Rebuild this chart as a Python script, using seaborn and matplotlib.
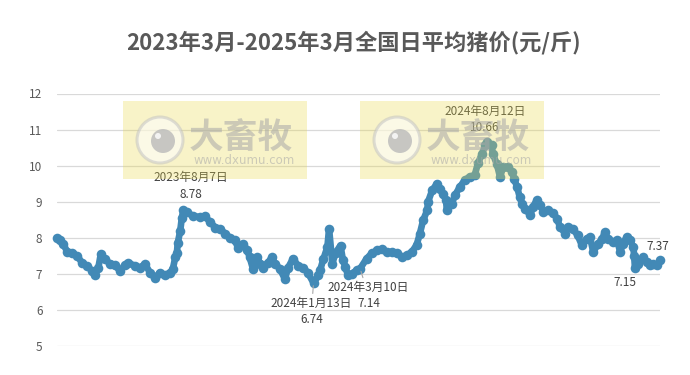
import pandas as pd
import matplotlib.pyplot as plt
import matplotlib.patches as mpatches
import seaborn as sns

# days counted from 2023-03-01, price in 元/斤
start = pd.Timestamp("2023-03-01")
days = [4, 8, 12, 17, 23, 29, 35, 41, 47, 51, 55, 58, 63, 69, 75, 81, 88, 91,
        100, 106, 112, 118, 124, 130, 136, 143, 146, 149, 151, 152, 155, 157,
        159, 163, 171, 179, 185, 192, 198, 204, 210, 216, 222, 226, 232, 237,
        240, 244, 249, 253, 256, 262, 267, 271, 277, 283, 287, 293, 299, 305,
        311, 318, 324, 326, 330, 335, 337, 341, 345, 351, 354, 357, 360, 365,
        371, 375, 383, 389, 396, 402, 408, 414, 420, 426, 432, 438, 444, 448,
        452, 457, 458, 463, 469, 473, 476, 480, 481, 487, 491, 497, 503, 509,
        515, 519, 524, 528, 530, 536, 537, 542, 546, 550, 556, 561, 563, 567,
        570, 573, 577, 583, 586, 591, 595, 599, 605, 611, 616, 619, 626, 629,
        635, 641, 646, 652, 656, 660, 666, 671, 674, 678, 684, 689, 693, 696,
        701, 705, 709, 710, 711, 715, 721, 726, 729, 733, 738, 742]
price = [7.98, 7.92, 7.83, 7.60, 7.58, 7.50, 7.30, 7.22, 7.08, 6.97, 7.17, 7.55,
         7.40, 7.28, 7.25, 7.08, 7.25, 7.30, 7.22, 7.17, 7.27, 7.03, 6.88, 7.03,
         6.95, 7.03, 7.13, 7.45, 7.58, 7.85, 8.18, 8.55, 8.78, 8.70, 8.60, 8.57,
         8.60, 8.42, 8.28, 8.25, 8.10, 8.00, 7.92, 7.70, 7.83, 7.65, 7.45, 7.13,
         7.45, 7.28, 7.17, 7.30, 7.45, 7.28, 7.13, 6.85, 7.17, 7.42, 7.22, 7.17,
         7.03, 6.74, 6.95, 7.09, 7.40, 7.74, 8.25, 7.28, 7.58, 7.78, 7.37, 7.19,
         6.95, 7.00, 7.10, 7.14, 7.42, 7.56, 7.65, 7.68, 7.60, 7.60, 7.56, 7.46,
         7.51, 7.60, 7.79, 8.11, 8.48, 8.76, 8.99, 9.31, 9.50, 9.36, 9.22, 9.04,
         8.76, 8.94, 9.18, 9.41, 9.60, 9.69, 9.73, 10.06, 10.33, 10.56, 10.66,
         10.56, 10.33, 10.05, 9.69, 9.96, 9.96, 9.82, 9.64, 9.40, 9.13, 8.94,
         8.80, 8.62, 8.85, 9.04, 8.90, 8.71, 8.76, 8.67, 8.53, 8.30, 8.11, 8.30,
         8.25, 8.06, 7.79, 7.97, 8.02, 7.60, 7.83, 7.97, 8.15, 7.97, 7.88, 7.93,
         7.60, 7.83, 8.02, 7.93, 7.74, 7.50, 7.15, 7.28, 7.46, 7.32, 7.23, 7.28,
         7.23, 7.37]

# labelled points: (day, value, label text, offset in points)
labels = [
    (159, 8.78, "2023年8月7日\n8.78", (5, 17)),
    (318, 6.74, "2024年1月13日\n6.74", (-1.5, -20.5)),
    (375, 7.14, "2024年3月10日\n7.14", (6, -19.5)),
    (530, 10.66, "2024年8月12日\n10.66", (-1.5, 16)),
    (711, 7.15, "7.15", (-7, -10)),
    (742, 7.37, "7.37", (-1.5, 10)),
]
leader = {318, 375}

df = pd.DataFrame({"date": start + pd.to_timedelta(days, unit="D"), "price": price})

sns.set_style("white")
plt.rcParams['font.family'] = ['Noto Sans CJK SC', 'DejaVu Sans']

fig = plt.figure(figsize=(6.9, 3.75), dpi=100)
ax = fig.add_axes([57 / 690, 1 - 345.7 / 375, 603 / 690, 252.2 / 375])

blue = "#4289b6"
sns.lineplot(data=df, x="date", y="price", ax=ax, color=blue, lw=4.8,
             solid_capstyle="round", solid_joinstyle="round", clip_on=False, zorder=3)
sns.scatterplot(data=df, x="date", y="price", ax=ax, color=blue, s=48,
                linewidth=0, clip_on=False, zorder=4)

ax.set_ylim(5, 12)
ax.set_xlim(start + pd.Timedelta(days=4.4), start + pd.Timedelta(days=741.6))
ax.set_yticks(range(5, 13))
ax.yaxis.grid(True, color="#d9d9d9", linewidth=0.9)
ax.xaxis.grid(False)
ax.set_xticks([])
ax.set_xlabel("")
ax.set_ylabel("")
ax.tick_params(axis="y", length=0, pad=10.5, labelsize=8.5, labelcolor="#595959")
for s in ax.spines.values():
    s.set_visible(False)

for d, v, txt, off in labels:
    ax.annotate(txt, xy=(start + pd.Timedelta(days=d), v), xytext=off,
                textcoords="offset points", ha="center", va="center",
                fontsize=8.5, color="#404040", linespacing=1.35, zorder=5,
                arrowprops=dict(arrowstyle="-", color="#a6a6a6", lw=0.8,
                                shrinkA=9, shrinkB=2) if d in leader else None)

fig.text(353 / 690, 1 - 43 / 375, "2023年3月-2025年3月全国日平均猪价(元/斤)",
         ha="center", va="center", fontsize=16, fontweight="bold", color="#595959")

# watermark boxes laid over the plot
W, H = 690, 375
for x0 in (123, 360):
    fig.add_artist(mpatches.Rectangle((x0 / W, 1 - 179 / H), 184 / W, 78 / H,
                                      transform=fig.transFigure, facecolor="#e8d84a",
                                      alpha=0.3, edgecolor="none", zorder=10))
    cx, cy = x0 + 37, 140
    fig.add_artist(mpatches.Ellipse((cx / W, 1 - cy / H), 46 / W, 46 / H,
                                    transform=fig.transFigure, facecolor="#ffffff",
                                    alpha=0.55, edgecolor="#c4c4c4", lw=2.2, zorder=11))
    fig.add_artist(mpatches.Ellipse(((cx + 3) / W, 1 - (cy + 1) / H), 24 / W, 24 / H,
                                    transform=fig.transFigure, facecolor="#bababa",
                                    alpha=0.8, edgecolor="none", zorder=12))
    fig.add_artist(mpatches.Ellipse(((cx - 2) / W, 1 - (cy - 4) / H), 6 / W, 6 / H,
                                    transform=fig.transFigure, facecolor="#ffffff",
                                    alpha=0.8, edgecolor="none", zorder=13))
    fig.text((x0 + 118) / W, 1 - 137 / H, "大畜牧", ha="center", va="center",
             fontsize=25, fontweight="bold", color="#a8a8a8", alpha=0.55, zorder=12)
    fig.text((x0 + 121) / W, 1 - 160 / H, "www.dxumu.com", ha="center", va="center",
             fontsize=8.5, family="DejaVu Sans", color="#a8a8a8", alpha=0.55, zorder=12)

fig.savefig("out.png", dpi=100)
